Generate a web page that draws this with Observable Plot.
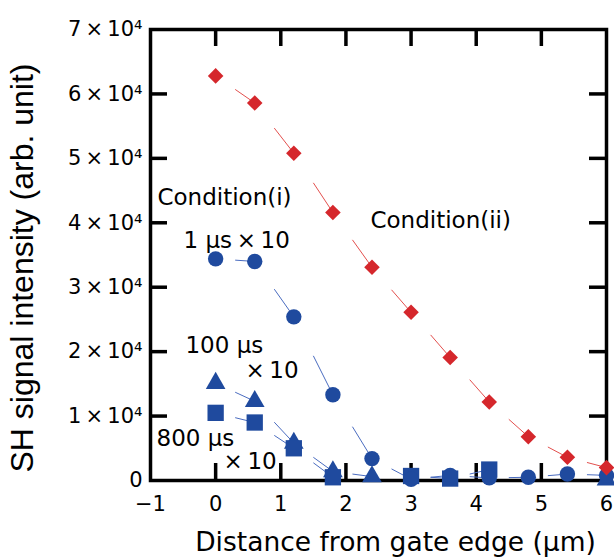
<!DOCTYPE html>
<html><head><meta charset="utf-8">
<script src="https://cdn.jsdelivr.net/npm/d3@7"></script>
<script src="https://cdn.jsdelivr.net/npm/@observablehq/plot@0.6"></script>
<style>body{margin:0;background:#fff}</style>
</head><body><div id="chart"></div>
<script>
// ---- data ----
const distance    = [0, 0.6, 1.2, 1.8, 2.4, 3.0, 3.6, 4.2, 4.8, 5.4, 6.0];
const conditionII = [62800, 58600, 50800, 41600, 33100, 26100, 19100, 12200, 6800, 3600, 2000];
const cond1us     = [34400, 34000, 25400, 13300, 3400, 200, 800, 400, 500, 1000, 800];
const cond100us   = [15100, 12300, 5800, 1400, 600, null, null, null, null, null, 100];
const cond800us   = [10500, 9000, 5000, 500, null, 700, 300, 1700, null, null, null];

const xTicks = [-1, 0, 1, 2, 3, 4, 5, 6];
const xInnerTicks = [0, 1, 2, 3, 4, 5];
const yTicks = [0, 10000, 20000, 30000, 40000, 50000, 60000, 70000];
const yInnerTicks = [10000, 20000, 30000, 40000, 50000, 60000];
const yTickLabels = ["0", "1\u2009×\u200910⁴", "2\u2009×\u200910⁴", "3\u2009×\u200910⁴", "4\u2009×\u200910⁴", "5\u2009×\u200910⁴", "6\u2009×\u200910⁴", "7\u2009×\u200910⁴"];
const xTitle = "Distance from gate edge (μm)";
const yTitle = "SH signal intensity (arb. unit)";
const labelCondI = "Condition(i)";
const labelCondII = "Condition(ii)";
const label1us = "1 μs\u2009×\u200910";
const label100us = "100 μs";
const label800us = "800 μs";
const labelTimes10 = "×\u200910";

// ---- build tables ----
const toRows = (vals) => distance.map((x, i) => ({x, y: vals[i]})).filter(d => d.y != null);
const toSegments = (vals) => {
  const segs = [];
  for (let i = 0; i < distance.length - 1; i++) {
    const a = vals[i], b = vals[i + 1];
    if (a == null || b == null) continue;
    const xa = distance[i], xb = distance[i + 1];
    segs.push({x1: xa + 0.5 * (xb - xa), y1: a + 0.5 * (b - a), x2: xb, y2: b});
  }
  return segs;
};

const W = 614, H = 557, mL = 150, mR = 8, mT = 29, mB = 77;
const pw = W - mL - mR, ph = H - mT - mB;
const RED = "#d5272c", BLUE = "#1f4a9e", RED_L = "#e3504e", BLUE_L = "#4a6cc0";
const tickLen = 17;

const chart = Plot.plot({
  width: W, height: H,
  marginLeft: mL, marginRight: mR, marginTop: mT, marginBottom: mB,
  style: {fontFamily: "DejaVu Sans", fontSize: "21px", background: "#fff", color: "#000"},
  x: {domain: [-1, 6]},
  y: {domain: [0, 70000]},
  marks: [
    Plot.frame({stroke: "#000", strokeWidth: 3.5}),
    Plot.tickX(xInnerTicks, {x: d => d, insetTop: ph - tickLen, stroke: "#000", strokeWidth: 3.5}),
    Plot.tickX(xInnerTicks, {x: d => d, insetBottom: ph - tickLen, stroke: "#000", strokeWidth: 3.5}),
    Plot.tickY(yInnerTicks, {y: d => d, insetRight: pw - tickLen, stroke: "#000", strokeWidth: 3.5}),
    Plot.tickY(yInnerTicks, {y: d => d, insetLeft: pw - tickLen, stroke: "#000", strokeWidth: 3.5}),
    Plot.axisX({ticks: xTicks, tickSize: 0, tickPadding: 16, label: null,
      tickFormat: d => d < 0 ? "−" + (-d) : String(d)}),
    Plot.axisY({ticks: yTicks, tickSize: 0, tickPadding: 8, label: null,
      tickFormat: d => yTickLabels[yTicks.indexOf(d)]}),
    // connecting lines
    Plot.link(toSegments(conditionII), {x1: "x1", y1: "y1", x2: "x2", y2: "y2", stroke: RED_L, strokeWidth: 1}),
    Plot.link(toSegments(cond1us), {x1: "x1", y1: "y1", x2: "x2", y2: "y2", stroke: BLUE_L, strokeWidth: 1}),
    Plot.link(toSegments(cond100us), {x1: "x1", y1: "y1", x2: "x2", y2: "y2", stroke: BLUE_L, strokeWidth: 1}),
    Plot.link(toSegments(cond800us), {x1: "x1", y1: "y1", x2: "x2", y2: "y2", stroke: BLUE_L, strokeWidth: 1}),
    // markers
    Plot.dot(toRows(cond100us), {x: "x", y: "y", symbol: "triangle", r: 7.3, fill: BLUE, stroke: "none"}),
    Plot.dot(toRows(cond800us), {x: "x", y: "y", symbol: "square", r: 9.2, fill: BLUE, stroke: "none"}),
    Plot.dot(toRows(cond1us), {x: "x", y: "y", symbol: "circle", r: 7.7, fill: BLUE, stroke: "none"}),
    Plot.dot(toRows(conditionII), {x: "x", y: "y", symbol: "diamond2", r: 7, fill: RED, stroke: "none"}),
    // annotations
    Plot.text([labelCondI], {text: d => d, x: -0.893, y: 42790, textAnchor: "start", lineAnchor: "bottom", fontSize: 23}),
    Plot.text([label1us], {text: d => d, x: -0.493, y: 36120, textAnchor: "start", lineAnchor: "bottom", fontSize: 23}),
    Plot.text([labelCondII], {text: d => d, x: 2.377, y: 39220, textAnchor: "start", lineAnchor: "bottom", fontSize: 23}),
    Plot.text([label100us], {text: d => d, x: -0.463, y: 19840, textAnchor: "start", lineAnchor: "bottom", fontSize: 23}),
    Plot.text([labelTimes10], {text: d => d, x: 0.458, y: 15970, textAnchor: "start", lineAnchor: "bottom", fontSize: 23}),
    Plot.text([label800us], {text: d => d, x: -0.908, y: 5430, textAnchor: "start", lineAnchor: "bottom", fontSize: 23}),
    Plot.text([labelTimes10], {text: d => d, x: 0.121, y: 1860, textAnchor: "start", lineAnchor: "bottom", fontSize: 23}),
    // axis titles
    Plot.text([xTitle], {text: d => d, frameAnchor: "bottom", textAnchor: "middle", dy: 70, dx: 17, lineAnchor: "bottom", fontSize: 26.5}),
    Plot.text([yTitle], {text: d => d, frameAnchor: "left", textAnchor: "middle", rotate: -90, dx: -118, dy: 13, lineAnchor: "bottom", fontSize: 32, fontFamily: "Liberation Sans"})
  ]
});
document.getElementById("chart").appendChild(chart);
</script>
</body></html>
